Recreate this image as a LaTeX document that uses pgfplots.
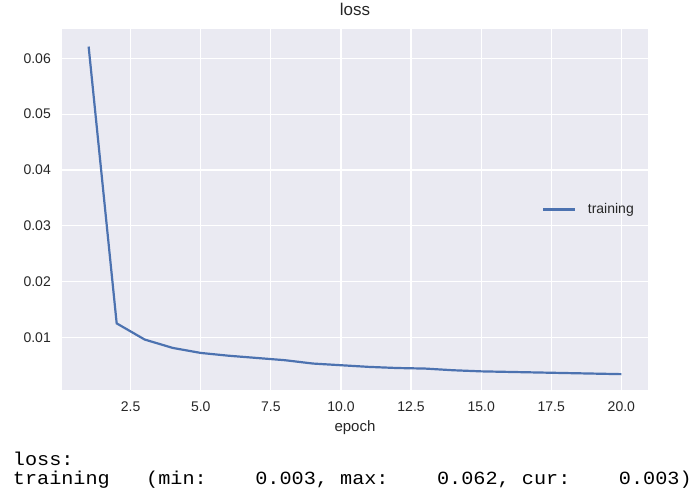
\documentclass[border=0pt]{standalone}
\usepackage{fontspec}
\setmainfont{Liberation Sans}
\setmonofont{Liberation Mono}
\usepackage{pgfplots}
\pgfplotsset{compat=1.18}
\definecolor{sbbg}{HTML}{EAEAF2}
\definecolor{sbblue}{HTML}{4C72B0}
\definecolor{sbtext}{HTML}{262626}
\begin{document}
\begin{tikzpicture}
\path[use as bounding box] (0pt,0pt) rectangle (699pt,-497pt);
\begin{axis}[
  at={(62pt,-390pt)}, anchor=south west,
  scale only axis, width=586pt, height=361pt,
  xmin=0.05, xmax=20.95, ymin=0.00056, ymax=0.06525,
  axis background/.style={fill=sbbg},
  axis line style={draw=none},
  major tick length=0pt,
  grid=major,
  major grid style={white, line width=1.2pt},
  xtick={2.5,5,7.5,10,12.5,15,17.5,20},
  ytick={0.01,0.02,0.03,0.04,0.05,0.06},
  scaled y ticks=false,
  /pgf/number format/assume math mode=true,
  xticklabel style={/pgf/number format/.cd, fixed, fixed zerofill, precision=1, /tikz/.cd,
    font=\fontsize{14}{16}\selectfont, text=sbtext, inner sep=0pt, anchor=north, yshift=-12pt},
  yticklabel style={/pgf/number format/.cd, fixed, fixed zerofill, precision=2, /tikz/.cd,
    font=\fontsize{14}{16}\selectfont, text=sbtext, inner sep=0pt, anchor=east, xshift=-11pt},
  xlabel={epoch},
  xlabel style={at={(axis description cs:0.5,0)}, anchor=base, yshift=-41.7pt, inner sep=0pt,
    font=\fontsize{15}{17}\selectfont, text=sbtext},
  title={loss},
  title style={at={(axis description cs:0.5,1)}, anchor=base, yshift=7pt, inner sep=0pt,
    font=\fontsize{17}{19}\selectfont, text=sbtext},
  legend style={draw=none, fill=none, at={(1,0.5)}, anchor=east, xshift=-14pt,
    inner sep=0pt, nodes={inner sep=0pt, text=sbtext, font=\fontsize{14}{16}\selectfont},
    /tikz/every odd column/.append style={column sep=11.7pt}},
  legend image code/.code={\draw[#1, line width=2.2pt] (0pt,0pt) -- (32pt,0pt);},
]
\addplot[sbblue, line width=2.2pt] coordinates {
 (1,0.0621) (2,0.0125) (3,0.0096) (4,0.0081) (5,0.0072) (6,0.0067) (7,0.0063)
 (8,0.0059) (9,0.0053) (10,0.0050) (11,0.0047) (12,0.0045) (13,0.0044) (14,0.0041)
 (15,0.0039) (16,0.0038) (17,0.0037) (18,0.0036) (19,0.0035) (20,0.0034)
};
\addlegendentry{training}
\end{axis}
\node[anchor=base west, inner sep=0pt, yscale=0.92, font=\ttfamily\fontsize{20.2}{22}\selectfont] at (12.7pt,-465.7pt) {loss:};
\node[anchor=base west, inner sep=0pt, yscale=0.92, font=\ttfamily\fontsize{20.2}{22}\selectfont] at (12.7pt,-484.3pt) {training\ \ \ (min:\ \ \ \ 0.003, max:\ \ \ \ 0.062, cur:\ \ \ \ 0.003)};
\end{tikzpicture}
\end{document}
